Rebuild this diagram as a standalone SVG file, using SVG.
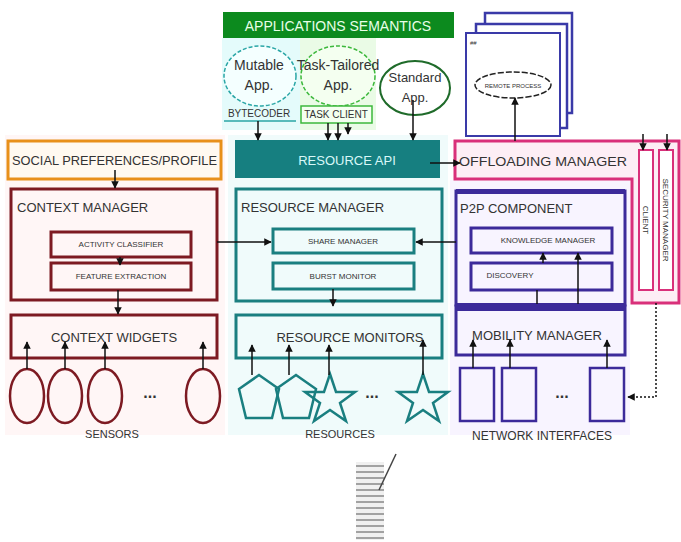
<svg xmlns="http://www.w3.org/2000/svg" width="681" height="542" viewBox="0 0 681 542">
<defs>
<marker id="ah" viewBox="0 0 10 10" refX="9" refY="5" markerWidth="5" markerHeight="5" orient="auto-start-reverse"><path d="M0,0 L10,5 L0,10 z" fill="#111"/></marker>
<style>
text{font-family:"Liberation Sans Narrow","Liberation Sans",Arial,sans-serif;fill:#333}
.h{font-size:13px}
.s{font-size:8px}
.red{fill:none;stroke:#7d1a22;stroke-width:3}
.tl{fill:none;stroke:#1a7f80;stroke-width:3}
.pu{fill:none;stroke:#3c2a9a;stroke-width:3}
.pk{stroke:#d9307a;stroke-width:3}
.c{stroke:#111;stroke-width:1.5;fill:none}
</style>
</defs>
<rect width="681" height="542" fill="#fff"/>
<!-- column tints -->
<rect x="5" y="135" width="220" height="300" fill="#fff6f6"/>
<rect x="228" y="135" width="220" height="300" fill="#f0fbfb"/>
<rect x="450" y="180" width="180" height="255" fill="#f8f4ff"/>

<g id="apps-semantics">
<rect x="223" y="12" width="231" height="26" fill="#0c8a1e"/>
<text x="338" y="31" font-size="14" text-anchor="middle" style="fill:#e8ffe8">APPLICATIONS SEMANTICS</text>
</g>
<g id="mutable-app">
<rect x="222" y="38" width="78" height="92" fill="#e4fbfb"/>
<ellipse cx="260" cy="76" rx="36" ry="30" fill="#f4ffff" stroke="#2aa6a6" stroke-width="1.5" stroke-dasharray="4 2"/>
<text x="259" y="70" font-size="14" text-anchor="middle">Mutable</text>
<text x="259" y="90" font-size="14" text-anchor="middle">App.</text>
<text x="259" y="117" font-size="10" text-anchor="middle">BYTECODER</text>
<line x1="224" y1="121" x2="296" y2="121" stroke="#2aa6a6" stroke-width="1.5"/>
</g>
<g id="task-tailored-app">
<rect x="300" y="38" width="76" height="92" fill="#eafbe6"/>
<ellipse cx="338" cy="76" rx="37" ry="30" fill="#f4fff0" stroke="#3cb83c" stroke-width="1.5" stroke-dasharray="4 2"/>
<text x="338" y="70" font-size="14" text-anchor="middle">Task-Tailored</text>
<text x="338" y="90" font-size="14" text-anchor="middle">App.</text>
<rect x="301" y="106" width="71" height="17" fill="#f4fff0" stroke="#3cb83c" stroke-width="1.5"/>
<text x="336" y="118" font-size="10" text-anchor="middle">TASK CLIENT</text>
</g>
<g id="standard-app">
<ellipse cx="415" cy="88" rx="35" ry="27" fill="#fff" stroke="#1f6b2a" stroke-width="2"/>
<text x="415" y="82" font-size="13" text-anchor="middle">Standard</text>
<text x="415" y="102" font-size="13" text-anchor="middle">App.</text>
</g>
<g id="remote-process">
<rect x="485" y="13" width="87" height="100" fill="#fff" stroke="#3a3aa8" stroke-width="2.5"/>
<rect x="476" y="24" width="91" height="104" fill="#fff" stroke="#3a3aa8" stroke-width="2.5"/>
<rect x="466" y="33" width="94" height="103" fill="#fff" stroke="#3a3aa8" stroke-width="2"/>
<text x="470" y="45" font-size="6">##</text>
<ellipse cx="513" cy="85" rx="38" ry="13" fill="#fff" stroke="#222" stroke-width="1.5" stroke-dasharray="6 2"/>
<text x="513" y="88" font-size="6" text-anchor="middle">REMOTE PROCESS</text>
</g>

<g id="social-profile">
<rect x="8" y="141" width="213" height="38" fill="#fff9f0" stroke="#e8901a" stroke-width="3"/>
<text x="12" y="165" class="h" textLength="205" lengthAdjust="spacingAndGlyphs">SOCIAL PREFERENCES/PROFILE</text>
</g>
<g id="context-manager">
<rect x="11" y="189" width="206" height="111" class="red" fill="#fff"/>
<text x="17" y="212" class="h">CONTEXT MANAGER</text>
<rect x="51" y="232" width="140" height="25" class="red"/>
<text x="121" y="247" class="s" text-anchor="middle">ACTIVITY CLASSIFIER</text>
<rect x="51" y="263" width="140" height="27" class="red"/>
<text x="121" y="279" class="s" text-anchor="middle">FEATURE EXTRACTION</text>
</g>
<g id="context-widgets">
<rect x="11" y="315" width="206" height="43" class="red" fill="#fff"/>
<text x="114" y="342" class="h" text-anchor="middle">CONTEXT WIDGETS</text>
</g>
<g id="sensors" fill="none" stroke="#7d1a22" stroke-width="2.5">
<ellipse cx="27" cy="396" rx="17" ry="27"/>
<ellipse cx="65" cy="396" rx="17" ry="27"/>
<ellipse cx="105" cy="396" rx="17" ry="27"/>
<ellipse cx="203" cy="396" rx="17" ry="27"/>
<text x="150" y="398" font-size="16" text-anchor="middle" stroke="none" style="fill:#333;font-weight:bold">...</text>
<text x="112" y="438" font-size="11" text-anchor="middle" stroke="none">SENSORS</text>
</g>

<g id="resource-api">
<rect x="235" y="140" width="205" height="38" fill="#167f80"/>
<text x="347" y="165" class="h" text-anchor="middle" style="fill:#d8f8f8">RESOURCE API</text>
</g>
<g id="resource-manager">
<rect x="236" y="189" width="206" height="112" class="tl" fill="#fff"/>
<text x="241" y="212" class="h">RESOURCE MANAGER</text>
<rect x="273" y="229" width="141" height="24" class="tl"/>
<text x="343" y="244" class="s" text-anchor="middle">SHARE MANAGER</text>
<rect x="273" y="263" width="141" height="26" class="tl"/>
<text x="343" y="279" class="s" text-anchor="middle">BURST MONITOR</text>
</g>
<g id="resource-monitors">
<rect x="236" y="315" width="206" height="43" class="tl" fill="#fff"/>
<text x="350" y="342" class="h" text-anchor="middle">RESOURCE MONITORS</text>
</g>
<g id="resources" fill="none" stroke="#1a7f80" stroke-width="2.5">
<polygon points="259,375 279,389 272,418 246,418 239,389"/>
<polygon points="296,375 316,389 309,418 283,418 276,389"/>
<polygon points="330,374 336,392 355,392 340,403 346,421 330,410 314,421 320,403 305,392 324,392"/>
<polygon points="423,374 429,392 448,392 433,403 439,421 423,410 407,421 413,403 398,392 417,392"/>
<text x="372" y="398" font-size="16" text-anchor="middle" stroke="none" style="fill:#333;font-weight:bold">...</text>
<text x="340" y="438" font-size="11" text-anchor="middle" stroke="none">RESOURCES</text>
</g>

<g id="offloading-manager">
<path d="M455,141 H679 V303 H632 V179 H455 Z" fill="#fdeef5" class="pk"/>
<text x="459" y="166" class="h" textLength="168" lengthAdjust="spacingAndGlyphs">OFFLOADING MANAGER</text>
</g>
<g id="client">
<rect x="639" y="150" width="14" height="140" fill="#fff" stroke="#d9307a" stroke-width="2"/>
<text transform="translate(643,220) rotate(90)" font-size="8" text-anchor="middle">CLIENT</text>
</g>
<g id="security-manager">
<rect x="659" y="150" width="14" height="140" fill="#fff" stroke="#d9307a" stroke-width="2"/>
<text transform="translate(663,220) rotate(90)" font-size="8" text-anchor="middle">SECURITY MANAGER</text>
</g>
<g id="p2p-component">
<rect x="456" y="191" width="169" height="114" class="pu" fill="#fff"/>
<rect x="456" y="189" width="169" height="5" fill="#3c2a9a"/>
<text x="460" y="213" class="h">P2P COMPONENT</text>
<rect x="471" y="228" width="141" height="25" class="pu"/>
<text x="548" y="243" class="s" text-anchor="middle">KNOWLEDGE MANAGER</text>
<rect x="471" y="263" width="141" height="27" class="pu"/>
<text x="510" y="278" class="s" text-anchor="middle">DISCOVERY</text>
</g>
<g id="mobility-manager">
<rect x="456" y="306" width="169" height="49" class="pu" fill="#fff"/>
<rect x="456" y="303" width="169" height="8" fill="#3c2a9a"/>
<text x="537" y="340" class="h" text-anchor="middle">MOBILITY MANAGER</text>
</g>
<g id="network-interfaces" fill="none" stroke="#3c2a9a" stroke-width="2.5">
<rect x="460" y="368" width="34" height="53"/>
<rect x="502" y="368" width="34" height="53"/>
<rect x="590" y="368" width="34" height="53"/>
<text x="562" y="398" font-size="16" text-anchor="middle" stroke="none" style="fill:#333;font-weight:bold">...</text>
<text x="542" y="440" font-size="12" text-anchor="middle" stroke="none">NETWORK INTERFACES</text>
</g>

<g id="stack-artifact">
<rect x="356" y="462" width="28" height="78" fill="#f0f0f0"/>
<g stroke="#888" stroke-width="1.5">
<line x1="356" y1="466" x2="384" y2="466"/><line x1="356" y1="472" x2="384" y2="472"/><line x1="356" y1="478" x2="384" y2="478"/><line x1="356" y1="484" x2="384" y2="484"/><line x1="356" y1="490" x2="384" y2="490"/><line x1="356" y1="496" x2="384" y2="496"/><line x1="356" y1="502" x2="384" y2="502"/><line x1="356" y1="508" x2="384" y2="508"/><line x1="356" y1="514" x2="384" y2="514"/><line x1="356" y1="520" x2="384" y2="520"/><line x1="356" y1="526" x2="384" y2="526"/><line x1="356" y1="532" x2="384" y2="532"/><line x1="356" y1="538" x2="384" y2="538"/>
</g>
<line x1="379" y1="490" x2="396" y2="454" stroke="#444" stroke-width="1.5"/>
</g>

<g id="connectors" class="c">
<line x1="115" y1="170" x2="115" y2="188" marker-end="url(#ah)"/>
<line x1="120" y1="257" x2="120" y2="265" marker-end="url(#ah)"/>
<line x1="118" y1="290" x2="118" y2="314" marker-end="url(#ah)"/>
<line x1="27" y1="369" x2="27" y2="342" marker-end="url(#ah)"/>
<line x1="65" y1="369" x2="65" y2="342" marker-end="url(#ah)"/>
<line x1="105" y1="369" x2="105" y2="342" marker-end="url(#ah)"/>
<line x1="203" y1="369" x2="203" y2="342" marker-end="url(#ah)"/>
<line x1="258" y1="121" x2="258" y2="140" marker-end="url(#ah)"/>
<line x1="328" y1="123" x2="328" y2="140" marker-end="url(#ah)"/>
<line x1="338" y1="123" x2="338" y2="140" marker-end="url(#ah)"/>
<line x1="348" y1="123" x2="348" y2="134" marker-end="url(#ah)"/>
<line x1="413" y1="100" x2="413" y2="140" marker-end="url(#ah)"/>
<line x1="515" y1="98" x2="515" y2="141" marker-start="url(#ah)"/>
<line x1="430" y1="163" x2="460" y2="163" marker-end="url(#ah)"/>
<line x1="217" y1="242" x2="271" y2="242" marker-end="url(#ah)"/>
<line x1="456" y1="242" x2="416" y2="242" marker-end="url(#ah)"/>
<line x1="333" y1="289" x2="333" y2="306" marker-end="url(#ah)"/>
<line x1="252" y1="375" x2="252" y2="345" marker-end="url(#ah)"/>
<line x1="289" y1="375" x2="289" y2="345" marker-end="url(#ah)"/>
<line x1="329" y1="375" x2="329" y2="345" marker-end="url(#ah)"/>
<line x1="423" y1="375" x2="423" y2="340" marker-end="url(#ah)"/>
<line x1="543" y1="253" x2="543" y2="263" marker-start="url(#ah)"/>
<line x1="578" y1="253" x2="578" y2="304" marker-start="url(#ah)"/>
<line x1="537" y1="290" x2="537" y2="304"/>
<line x1="473" y1="368" x2="473" y2="340" marker-end="url(#ah)"/>
<line x1="510" y1="368" x2="510" y2="340" marker-end="url(#ah)"/>
<line x1="607" y1="368" x2="607" y2="340" marker-end="url(#ah)"/>
<line x1="643" y1="134" x2="643" y2="150" marker-end="url(#ah)"/>
<line x1="667" y1="134" x2="667" y2="150" marker-end="url(#ah)"/>
<path d="M656,303 V397 H628" stroke-dasharray="2 2" marker-end="url(#ah)"/>
</g>
</svg>
